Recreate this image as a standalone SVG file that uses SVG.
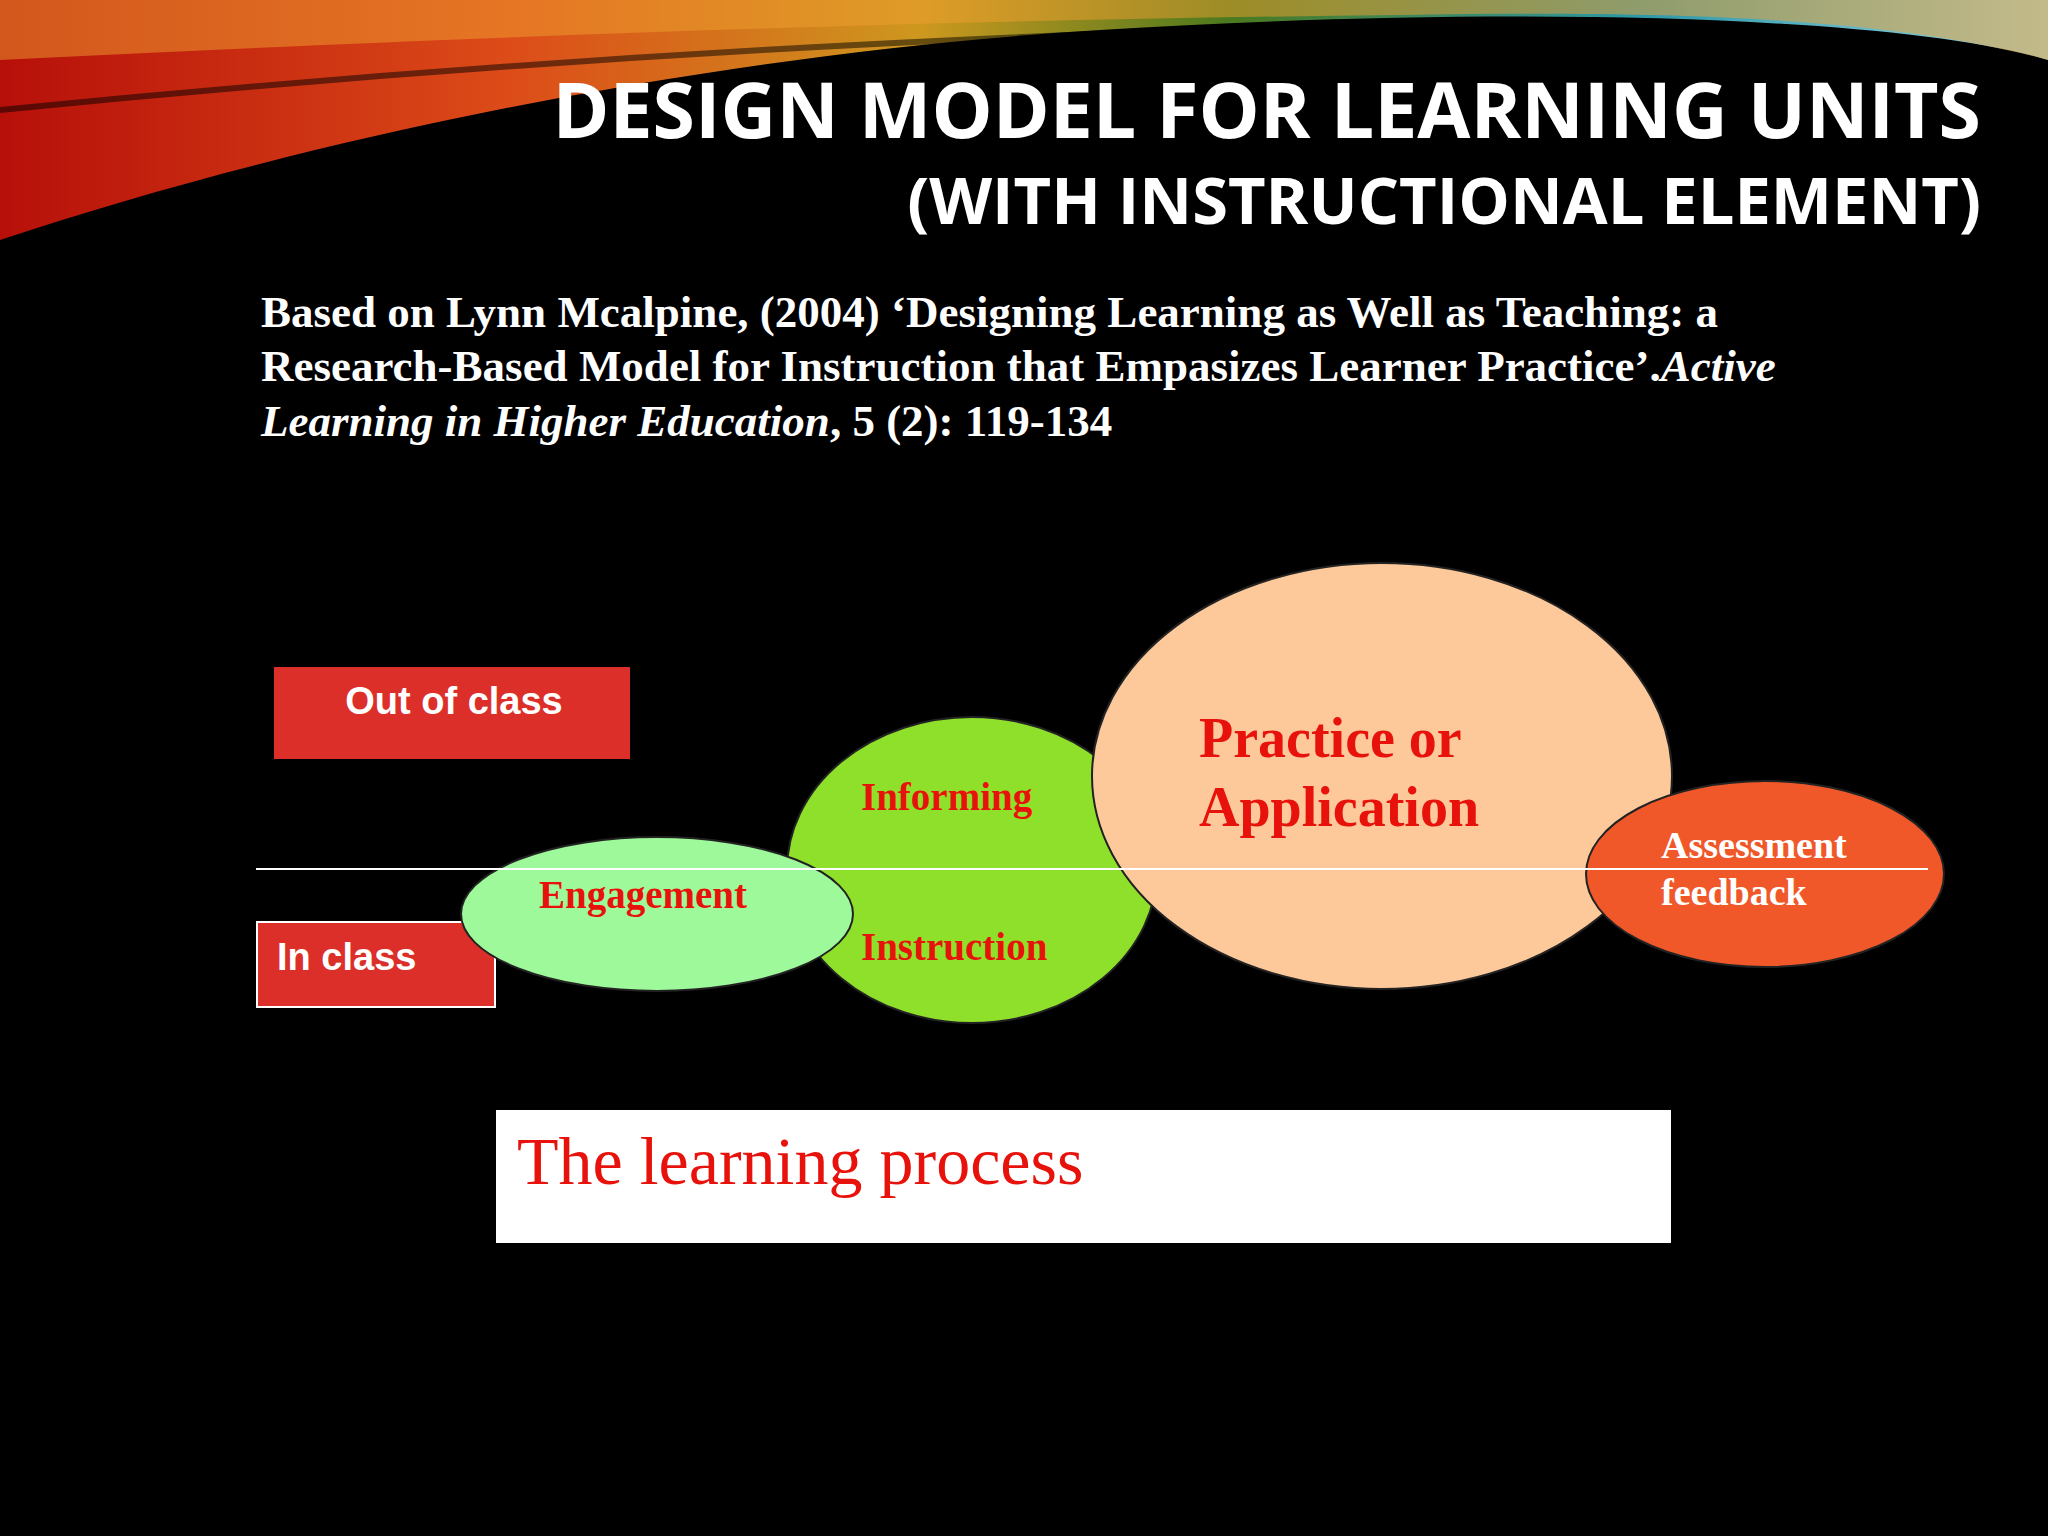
<svg xmlns="http://www.w3.org/2000/svg" width="2048" height="1536" viewBox="0 0 2048 1536">
<defs>
<linearGradient id="sw" x1="0" y1="0" x2="1" y2="0">
<stop offset="0" stop-color="#c0100a"/><stop offset="0.25" stop-color="#e8501a"/><stop offset="0.45" stop-color="#d8a020"/><stop offset="0.6" stop-color="#508020"/><stop offset="0.8" stop-color="#30a0b0"/><stop offset="1" stop-color="#a0e0f0"/>
</linearGradient>
<style>
.t{font-family:"Liberation Serif",serif;font-weight:bold}
.w{fill:#fff}
.r{fill:#e8120c}
.sans{font-family:"Liberation Sans",Arial,sans-serif;font-weight:bold}
</style>
</defs>
<rect width="2048" height="1536" fill="#000"/>
<g id="swoosh">
<path d="M0 0 H2048 V60 C1900 15 1500 5 1100 30 C700 55 300 140 0 240 Z" fill="url(#sw)" opacity="0.95"/>
<path d="M0 60 C400 40 900 20 1400 15 C1700 10 1900 20 2048 60 V0 H0 Z" fill="#f0a030" opacity="0.5"/>
<path d="M0 110 C500 60 1000 30 1600 20" stroke="#000" stroke-width="6" fill="none" opacity="0.5"/>
</g>
<g id="title" font-family="'Open Sans','Liberation Sans',sans-serif" font-weight="bold" fill="#fff" text-anchor="end">
<text x="1981" y="138" font-size="77">DESIGN MODEL FOR LEARNING UNITS</text>
<text x="1981" y="224" font-size="65">(WITH INSTRUCTIONAL ELEMENT)</text>
</g>
<g id="citation" class="t w" font-size="45">
<text x="261" y="327">Based on Lynn Mcalpine, (2004) ‘Designing Learning as Well as Teaching: a</text>
<text x="261" y="381">Research-Based Model for Instruction that Empasizes Learner Practice’.<tspan font-style="italic">Active</tspan></text>
<text x="261" y="436"><tspan font-style="italic">Learning in Higher Education</tspan>, 5 (2): 119-134</text>
</g>
<g id="out-of-class">
<rect x="274" y="667" width="356" height="92" fill="#dc2f2a"/>
<text x="454" y="714" class="sans w" font-size="38" text-anchor="middle">Out of class</text>
</g>
<g id="in-class">
<rect x="257" y="922" width="238" height="85" fill="#dc2f2a" stroke="#fff" stroke-width="2"/>
<text x="277" y="970" class="sans w" font-size="38">In class</text>
</g>
<g id="informing">
<ellipse cx="972" cy="870" rx="185" ry="153" fill="#8ee02a" stroke="#222" stroke-width="2"/>
</g>
<g id="engagement">
<ellipse cx="657" cy="914" rx="196" ry="77" fill="#9ef99a" stroke="#222" stroke-width="2"/>
</g>
<g id="practice">
<ellipse cx="1382" cy="776" rx="290" ry="213" fill="#fec99a" stroke="#222" stroke-width="2"/>
</g>
<g id="assessment">
<ellipse cx="1765" cy="874" rx="179" ry="93" fill="#f0582a" stroke="#222" stroke-width="2"/>
</g>
<g id="connectors">
<line x1="256" y1="869" x2="1928" y2="869" stroke="#fff" stroke-width="2"/>
</g>
<g id="labels" class="t" font-size="39">
<text x="861" y="810" class="r">Informing</text>
<text x="861" y="960" class="r">Instruction</text>
<text x="539" y="908" class="r">Engagement</text>
<text x="1199" y="757" class="r" font-size="56">Practice or</text>
<text x="1199" y="826" class="r" font-size="56">Application</text>
<text x="1661" y="858" class="w" font-size="38">Assessment</text>
<text x="1661" y="905" class="w" font-size="38">feedback</text>
</g>
<g id="process">
<rect x="496" y="1110" width="1175" height="133" fill="#fff"/>
<text x="517" y="1184" font-family="'Liberation Serif',serif" font-size="68" fill="#e8120c">The learning process</text>
</g>
</svg>
